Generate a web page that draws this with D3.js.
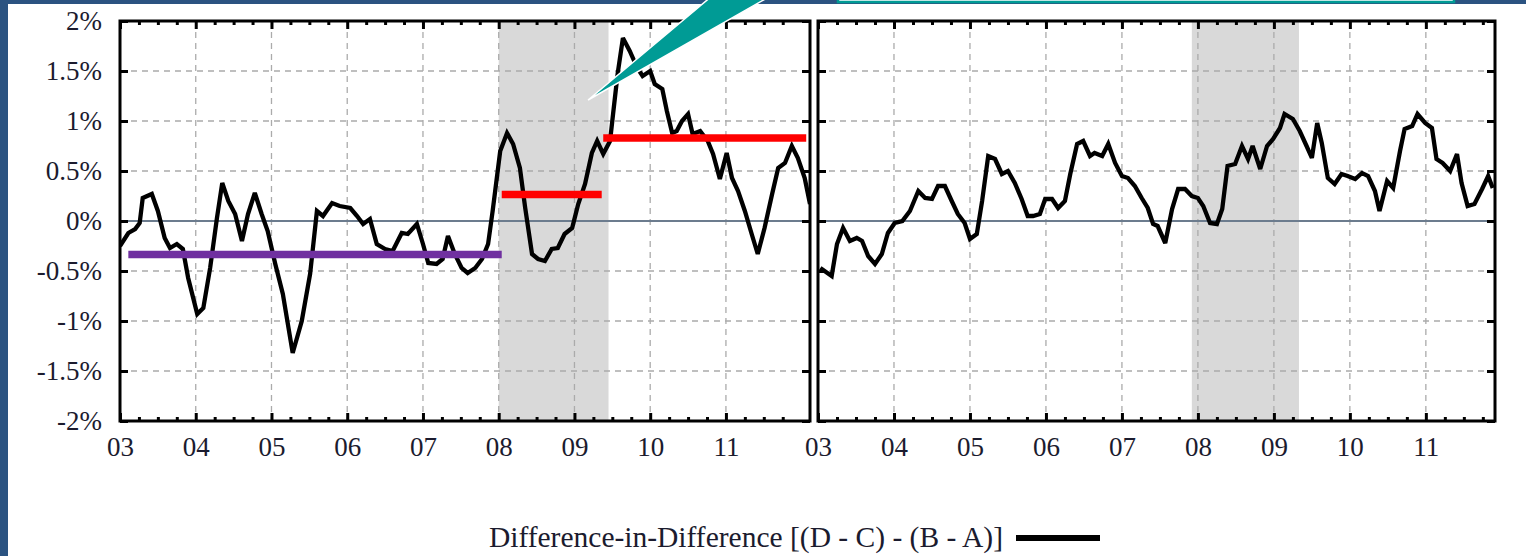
<!DOCTYPE html>
<html>
<head>
<meta charset="utf-8">
<script src="https://cdn.jsdelivr.net/npm/d3@7"></script>
<style>
  body { margin: 0; background: #fff; overflow: hidden; }
  svg { display: block; }
</style>
</head>
<body>
<div id="chart"></div>
<script>

// left panel series (decimal year, %)
var leftYears = [
  2003.00,2003.11,2003.20,2003.26,2003.30,2003.42,2003.50,2003.59,2003.66,2003.75,2003.83,2003.90,
  2004.02,2004.10,2004.19,2004.28,2004.35,2004.43,2004.52,2004.61,2004.69,2004.78,2004.87,2004.95,
  2005.05,2005.15,2005.28,2005.40,2005.51,2005.60,2005.68,2005.80,2005.90,
  2006.04,2006.13,2006.21,2006.30,2006.39,2006.50,2006.60,2006.72,2006.80,2006.92,
  2007.00,2007.07,2007.18,2007.26,2007.33,2007.42,2007.51,2007.59,2007.69,2007.78,2007.86,2007.92,
  2008.02,2008.11,2008.19,2008.28,2008.35,2008.44,2008.52,2008.61,2008.70,2008.78,2008.87,2008.97,
  2009.05,2009.14,2009.23,2009.30,2009.38,2009.47,2009.51,2009.57,2009.64,2009.73,2009.83,2009.90,
  2010.00,2010.06,2010.16,2010.22,2010.29,2010.35,2010.42,2010.50,2010.56,2010.66,2010.76,2010.83,2010.92,
  2011.01,2011.08,2011.16,2011.25,2011.34,2011.42,2011.51,2011.61,2011.69,2011.78,2011.87,2011.95,
  2012.04,2012.11];
var leftValues = [
  -0.25,-0.12,-0.08,-0.02,0.23,0.27,0.10,-0.17,-0.27,-0.23,-0.28,-0.57,
  -0.93,-0.87,-0.47,0.03,0.38,0.20,0.07,-0.20,0.07,0.28,0.07,-0.10,
  -0.43,-0.73,-1.32,-1.00,-0.53,0.10,0.05,0.18,0.15,
  0.13,0.05,-0.03,0.02,-0.23,-0.28,-0.30,-0.12,-0.13,-0.03,
  -0.23,-0.42,-0.43,-0.38,-0.15,-0.33,-0.47,-0.52,-0.47,-0.38,-0.23,0.10,
  0.70,0.88,0.77,0.53,0.13,-0.33,-0.38,-0.40,-0.28,-0.27,-0.13,-0.07,
  0.17,0.37,0.68,0.80,0.67,0.80,1.07,1.47,1.83,1.70,1.53,1.45,
  1.50,1.37,1.32,1.10,0.88,0.90,1.00,1.07,0.87,0.90,0.80,0.67,0.42,
  0.68,0.43,0.30,0.10,-0.13,-0.33,-0.07,0.27,0.53,0.58,0.75,0.63,
  0.43,0.17];

// right panel series
var rightYears = [
  2003.03,2003.18,2003.25,2003.33,2003.42,2003.51,2003.58,2003.66,2003.75,2003.84,2003.92,
  2004.01,2004.11,2004.21,2004.32,2004.41,2004.50,2004.58,2004.67,2004.76,2004.84,2004.93,
  2005.00,2005.09,2005.16,2005.24,2005.33,2005.42,2005.50,2005.59,2005.68,2005.76,2005.83,2005.92,2005.99,
  2006.08,2006.16,2006.25,2006.32,2006.41,2006.49,2006.58,2006.64,2006.74,2006.82,2006.91,
  2007.00,2007.08,2007.17,2007.26,2007.34,2007.41,2007.47,2007.57,2007.66,2007.74,2007.83,2007.92,
  2008.00,2008.07,2008.16,2008.25,2008.32,2008.39,2008.49,2008.58,2008.66,2008.72,2008.82,2008.91,2008.99,
  2009.08,2009.14,2009.25,2009.34,2009.43,2009.50,2009.57,2009.63,2009.71,2009.80,2009.89,2009.97,
  2010.07,2010.16,2010.24,2010.33,2010.39,2010.49,2010.57,2010.66,2010.72,2010.82,2010.89,2010.99,
  2011.08,2011.14,2011.22,2011.32,2011.41,2011.47,2011.55,2011.64,2011.74,2011.82,2011.88];
var rightValues = [
  -0.47,-0.55,-0.23,-0.07,-0.20,-0.17,-0.20,-0.35,-0.43,-0.33,-0.12,
  -0.02,0.00,0.10,0.30,0.23,0.22,0.35,0.35,0.20,0.07,-0.02,
  -0.18,-0.13,0.20,0.65,0.62,0.47,0.50,0.38,0.22,0.05,0.05,0.07,0.22,
  0.22,0.13,0.20,0.47,0.77,0.80,0.65,0.68,0.65,0.77,0.58,
  0.45,0.43,0.35,0.23,0.13,-0.03,-0.05,-0.22,0.12,0.32,0.32,0.25,
  0.23,0.15,-0.02,-0.03,0.12,0.55,0.57,0.75,0.62,0.75,0.52,0.75,0.82,
  0.93,1.07,1.02,0.90,0.75,0.63,0.98,0.78,0.43,0.37,0.47,0.45,
  0.42,0.48,0.45,0.30,0.10,0.40,0.33,0.70,0.92,0.95,1.07,0.98,
  0.93,0.62,0.58,0.50,0.67,0.38,0.15,0.17,0.32,0.45,0.33];

// period averages drawn on the left panel
var periodStart = [2003.11, 2008.04, 2009.38];
var periodEnd   = [2008.04, 2009.36, 2012.06];
var periodValue = [-0.335, 0.265, 0.83];

// recession shading (per panel)
var leftShade  = [2008.00, 2009.45];
var rightShade = [2007.92, 2009.33];

var yearTicks  = [2003, 2004, 2005, 2006, 2007, 2008, 2009, 2010, 2011];
var yearLabels = ["03", "04", "05", "06", "07", "08", "09", "10", "11"];
var pctTicks   = [-2, -1.5, -1, -0.5, 0, 0.5, 1, 1.5, 2];

var legendLabel = "Difference-in-Difference [(D - C) - (B - A)]";

var W = 1526, H = 556;
var plotTop = 21, plotBottom = 421;
var font = "'Liberation Serif', 'Times New Roman', serif";
var textColor = "#1b1b2e";
var periodColors = ["#7030a0", "#ff0000", "#ff0000"];

var svg = d3.select("#chart").append("svg")
    .attr("width", W)
    .attr("height", H);

// slide frame
svg.append("rect").attr("x", 0).attr("y", 0).attr("width", W).attr("height", 4).attr("fill", "#2b5381");
svg.append("rect").attr("x", 0).attr("y", 0).attr("width", 8).attr("height", H).attr("fill", "#2b5381");
svg.append("rect").attr("x", 838).attr("y", -10).attr("width", 616).attr("height", 12)
    .attr("fill", "#fff").attr("stroke", "#009b95").attr("stroke-width", 2.5);

var yScale = d3.scaleLinear().domain([-2, 2]).range([plotBottom, plotTop]);

function drawPanel(x, years, values, shade, id) {
  var x0 = x.range()[0], x1 = x.range()[1];
  var g = svg.append("g");

  g.append("clipPath").attr("id", id)
    .append("rect").attr("x", x0).attr("y", plotTop).attr("width", x1 - x0).attr("height", plotBottom - plotTop);

  g.append("rect")
    .attr("x", x(shade[0]))
    .attr("y", plotTop)
    .attr("width", x(shade[1]) - x(shade[0]))
    .attr("height", plotBottom - plotTop)
    .attr("fill", "#d9d9d9");

  // dashed grid
  g.selectAll(".vgrid").data(yearTicks.slice(1)).enter().append("line")
    .attr("x1", function(d) { return x(d); })
    .attr("x2", function(d) { return x(d); })
    .attr("y1", plotTop).attr("y2", plotBottom)
    .attr("stroke", "#ababab").attr("stroke-width", 1.3).attr("stroke-dasharray", "6,5");
  g.selectAll(".hgrid").data(pctTicks.filter(function(d) { return d !== 0 && Math.abs(d) < 2; })).enter().append("line")
    .attr("x1", x0).attr("x2", x1)
    .attr("y1", function(d) { return yScale(d); })
    .attr("y2", function(d) { return yScale(d); })
    .attr("stroke", "#ababab").attr("stroke-width", 1.3).attr("stroke-dasharray", "6,5");

  g.append("line")
    .attr("x1", x0).attr("x2", x1)
    .attr("y1", yScale(0)).attr("y2", yScale(0))
    .attr("stroke", "#6c7c8e").attr("stroke-width", 2.2);

  var line = d3.line()
    .x(function(d, i) { return x(years[i]); })
    .y(function(d) { return yScale(d); });

  g.append("path")
    .datum(values)
    .attr("clip-path", "url(#" + id + ")")
    .attr("d", line)
    .attr("fill", "none")
    .attr("stroke", "#000")
    .attr("stroke-width", 4.3)
    .attr("stroke-linejoin", "miter")
    .attr("stroke-miterlimit", 3);

  return g;
}

function drawFrame(g, x, showLabels) {
  var x0 = x.range()[0], x1 = x.range()[1];
  var quarters = d3.range(2003.25, x.domain()[1], 0.25).filter(function(d) { return d % 1 !== 0; });

  var axes = [
    g.append("g").attr("transform", "translate(0," + plotBottom + ")")
      .call(d3.axisBottom(x).tickValues(quarters).tickSize(-4).tickFormat("")),
    g.append("g").attr("transform", "translate(0," + plotTop + ")")
      .call(d3.axisTop(x).tickValues(quarters).tickSize(-4).tickFormat("")),
    g.append("g").attr("transform", "translate(0," + plotTop + ")")
      .call(d3.axisTop(x).tickValues(yearTicks).tickSize(-8).tickFormat("")),
    g.append("g").attr("transform", "translate(" + x1 + ",0)")
      .call(d3.axisRight(yScale).tickValues(pctTicks).tickSize(-8).tickFormat("")),
    g.append("g").attr("transform", "translate(0," + plotBottom + ")")
      .call(d3.axisBottom(x).tickValues(yearTicks).tickSize(-8).tickPadding(16)
        .tickFormat(function(d) { return yearLabels[yearTicks.indexOf(d)]; })),
    g.append("g").attr("transform", "translate(" + x0 + ",0)")
      .call(d3.axisLeft(yScale).tickValues(pctTicks).tickSize(-8).tickPadding(18)
        .tickFormat(function(d) { return showLabels ? d + "%" : ""; }))
  ];
  axes.forEach(function(a) {
    a.select(".domain").remove();
    a.selectAll(".tick line").attr("stroke", "#000").attr("stroke-width", 3);
    a.selectAll(".tick text")
      .attr("fill", textColor)
      .style("font-family", font)
      .style("font-size", "27px");
  });

  g.append("rect")
    .attr("x", x0).attr("y", plotTop)
    .attr("width", x1 - x0).attr("height", plotBottom - plotTop)
    .attr("fill", "none").attr("stroke", "#000").attr("stroke-width", 3);
}

var xLeft  = d3.scaleLinear().domain([2003, 2012.11]).range([120, 810]);
var xRight = d3.scaleLinear().domain([2003, 2011.91]).range([818, 1495]);

var gLeft = drawPanel(xLeft, leftYears, leftValues, leftShade, "clipL");
var gRight = drawPanel(xRight, rightYears, rightValues, rightShade, "clipR");

// period averages
gLeft.selectAll(".period").data(periodValue).enter().append("line")
  .attr("x1", function(d, i) { return xLeft(periodStart[i]); })
  .attr("x2", function(d, i) { return xLeft(periodEnd[i]); })
  .attr("y1", function(d) { return yScale(d); })
  .attr("y2", function(d) { return yScale(d); })
  .attr("stroke", function(d, i) { return periodColors[i]; })
  .attr("stroke-width", 7.5);

drawFrame(gLeft, xLeft, true);
drawFrame(gRight, xRight, false);

// callout pointer
var tipX = xLeft(2009.18), tipY = yScale(1.21);
svg.append("polygon")
  .attr("points", [[tipX, tipY], [tipX + 131, tipY - 110], [tipX + 193, tipY - 110]].join(" "))
  .attr("fill", "#009b95")
  .attr("stroke", "#fff")
  .attr("stroke-width", 1.5);

// legend
svg.append("text")
  .attr("x", 1003)
  .attr("y", 547)
  .attr("text-anchor", "end")
  .attr("fill", textColor)
  .style("font-family", font)
  .style("font-size", "29.5px")
  .text(legendLabel);

svg.append("line")
  .attr("x1", 1016).attr("x2", 1100)
  .attr("y1", 538).attr("y2", 538)
  .attr("stroke", "#000").attr("stroke-width", 6);

</script>
</body>
</html>
